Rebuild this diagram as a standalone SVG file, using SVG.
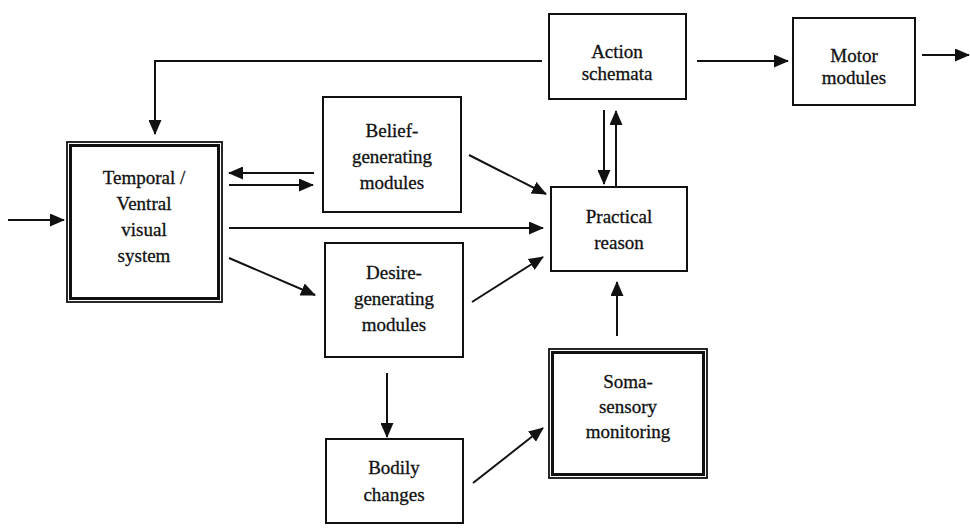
<svg xmlns="http://www.w3.org/2000/svg" width="970" height="529" viewBox="0 0 970 529">
<style>
.box{fill:#fff;stroke:#111;stroke-width:2}
.outer{fill:#fff;stroke:#111;stroke-width:1.8}
.inner{fill:none;stroke:#111;stroke-width:3}
.lbl{font-family:"Liberation Serif",serif;font-size:19px;fill:#111;text-anchor:middle;stroke:#111;stroke-width:0.3}
.con line,.con path{stroke:#111;stroke-width:2;fill:none;marker-end:url(#ah)}
</style>
<defs>
<marker id="ah" viewBox="0 0 15 13" refX="14" refY="6.5" markerWidth="15" markerHeight="13" markerUnits="userSpaceOnUse" orient="auto">
<path d="M0,0 L15,6.5 L0,13 Z" fill="#111"/>
</marker>
</defs>
<rect width="970" height="529" fill="#fff"/>
<g id="temporal">
<rect class="outer" x="67" y="142" width="155" height="160"/>
<rect class="inner" x="70.5" y="145.5" width="148" height="153"/>
<text class="lbl" x="144" y="184">Temporal /</text>
<text class="lbl" x="144" y="210">Ventral</text>
<text class="lbl" x="144" y="236">visual</text>
<text class="lbl" x="144" y="262">system</text>
</g>
<g id="belief">
<rect class="box" x="323" y="97" width="138" height="115"/>
<text class="lbl" x="392" y="137">Belief-</text>
<text class="lbl" x="392" y="163">generating</text>
<text class="lbl" x="392" y="189">modules</text>
</g>
<g id="desire">
<rect class="box" x="325" y="243" width="138" height="114"/>
<text class="lbl" x="394" y="279">Desire-</text>
<text class="lbl" x="394" y="305">generating</text>
<text class="lbl" x="394" y="331">modules</text>
</g>
<g id="bodily">
<rect class="box" x="326" y="439" width="137" height="84"/>
<text class="lbl" x="394" y="474">Bodily</text>
<text class="lbl" x="394" y="501">changes</text>
</g>
<g id="soma">
<rect class="outer" x="549" y="349" width="158" height="129"/>
<rect class="inner" x="552.5" y="352.5" width="151" height="122"/>
<text class="lbl" x="628" y="388">Soma-</text>
<text class="lbl" x="628" y="413">sensory</text>
<text class="lbl" x="628" y="438">monitoring</text>
</g>
<g id="practical">
<rect class="box" x="551" y="187" width="136" height="84"/>
<text class="lbl" x="619" y="223">Practical</text>
<text class="lbl" x="619" y="249">reason</text>
</g>
<g id="action">
<rect class="box" x="549" y="14" width="137" height="85"/>
<text class="lbl" x="617" y="58">Action</text>
<text class="lbl" x="617" y="80">schemata</text>
</g>
<g id="motor">
<rect class="box" x="793" y="18" width="122" height="87"/>
<text class="lbl" x="854" y="62">Motor</text>
<text class="lbl" x="854" y="84">modules</text>
</g>
<g class="con" id="connectors">
<line x1="8" y1="220" x2="64" y2="220"/>
<path d="M542,61 H155 V134"/>
<line x1="314" y1="173" x2="229" y2="173"/>
<line x1="229" y1="185" x2="313" y2="185"/>
<line x1="229" y1="228" x2="543" y2="228"/>
<line x1="229" y1="258" x2="315" y2="295"/>
<line x1="469" y1="155" x2="546" y2="194"/>
<line x1="472" y1="302" x2="543" y2="257"/>
<line x1="604" y1="110" x2="604" y2="184"/>
<line x1="616" y1="187" x2="616" y2="111"/>
<line x1="617" y1="336" x2="617" y2="282"/>
<line x1="387" y1="373" x2="387" y2="437"/>
<line x1="473" y1="483" x2="543" y2="428"/>
<line x1="697" y1="61" x2="788" y2="61"/>
<line x1="922" y1="55" x2="969" y2="55"/>
</g>
</svg>
